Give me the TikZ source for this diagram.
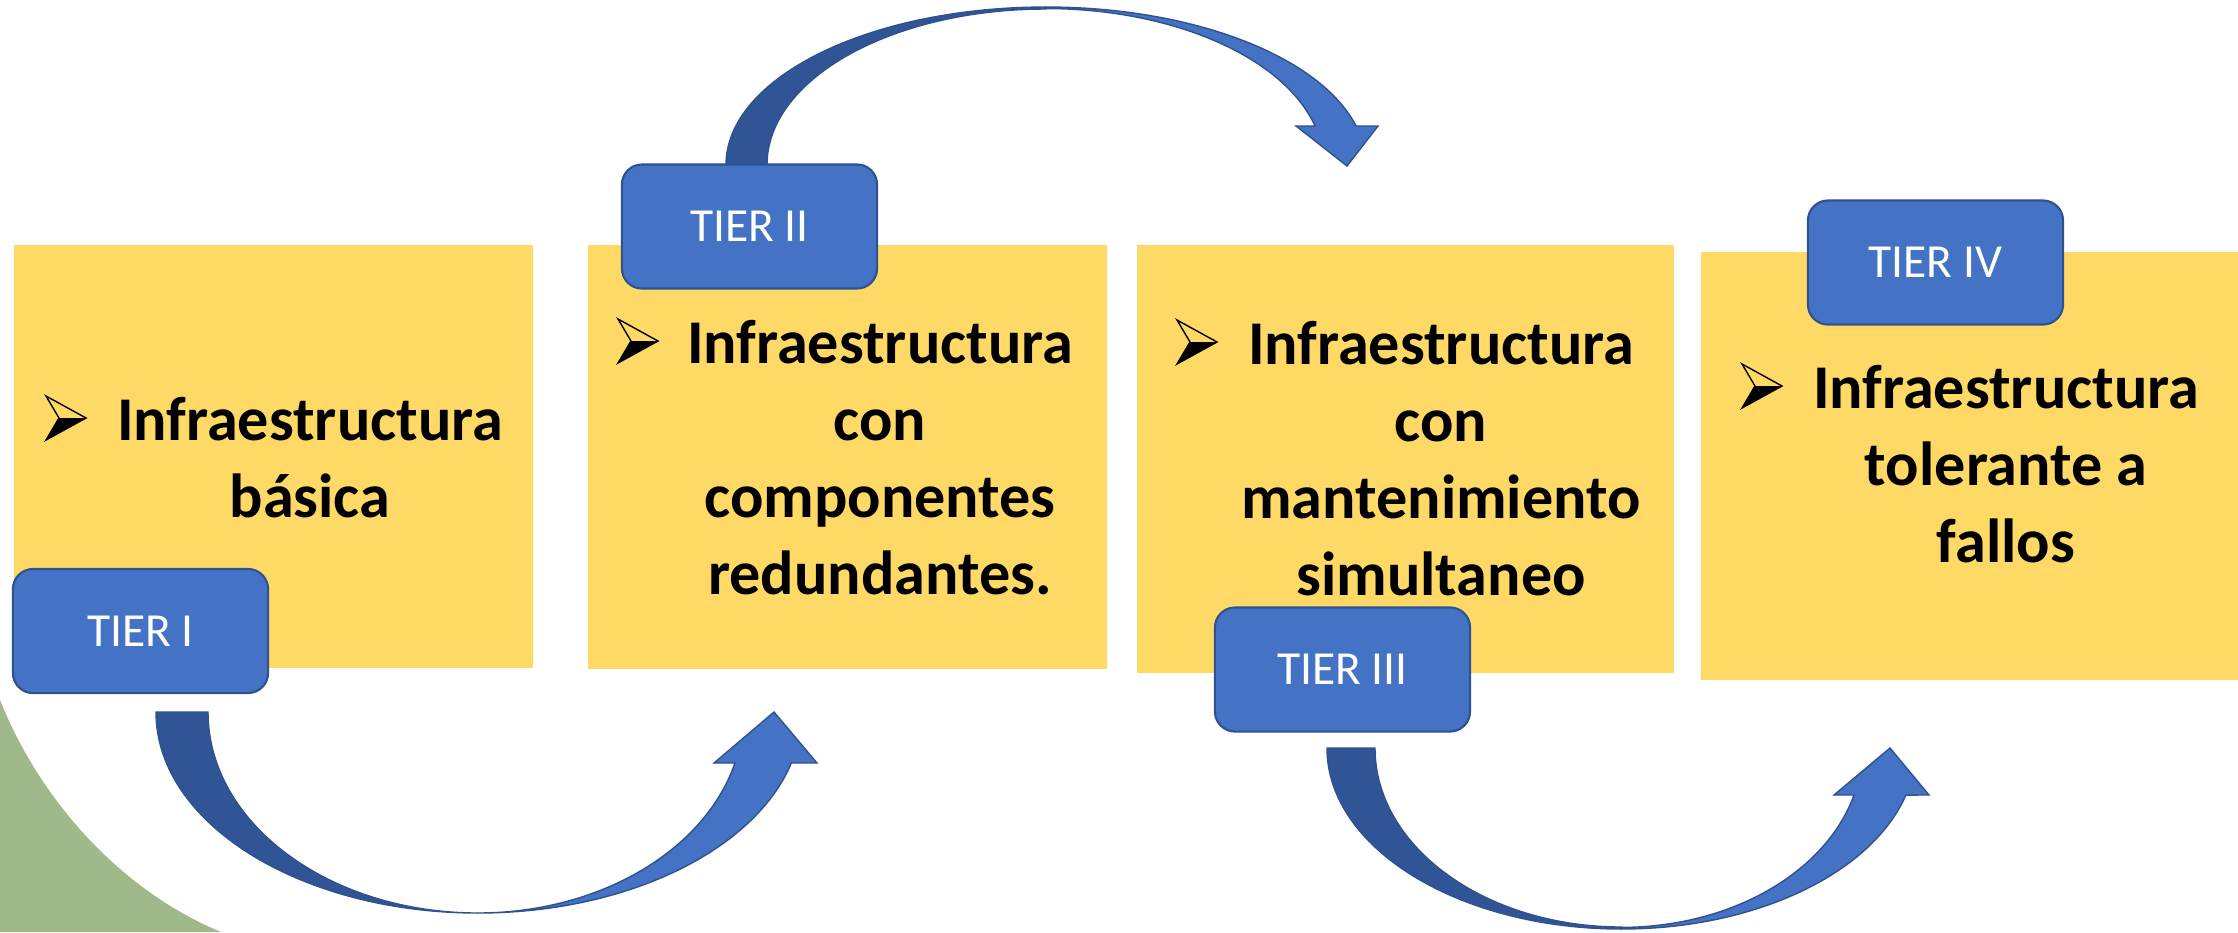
\documentclass[tikz,border=0pt]{standalone}
\usepackage{fontspec}
\setmainfont{Carlito}
\definecolor{myyellow}{HTML}{FFD966}
\definecolor{tierblue}{HTML}{4472C4}
\definecolor{tierline}{HTML}{2F528F}
\definecolor{arrowdark}{HTML}{2F5597}
\definecolor{arrowlight}{HTML}{4472C4}
\definecolor{mygreen}{HTML}{A0B98A}
\tikzset{
  ybox/.style={fill=myyellow, draw=none, inner sep=0pt},
  tier/.style={fill=tierblue, draw=tierline, line width=0.6pt, rounded corners=0.2cm,
    minimum width=2.55cm, minimum height=1.24cm, inner sep=0pt, text=white,
    font=\fontsize{13.5}{16}\selectfont},
  lbl/.style={anchor=base, inner sep=0pt, font=\bfseries\fontsize{17.7}{21.8}\selectfont},
  darkarrow/.style={fill=arrowdark, draw=tierline, line width=0.4pt},
  lightarrow/.style={fill=arrowlight, draw=tierline, line width=0.4pt},
  bul/.pic={
    \fill[black] (13,-22) -- (40,-22) -- (0,0) -- cycle;
    \draw[black, line width=0.4pt, line join=miter] (0,-44) -- (40,-22) -- (0,0) -- (13,-22) -- cycle;
  }
}
\begin{document}
\begin{tikzpicture}[x=0.01cm, y=-0.01cm]
\useasboundingbox (0,0) rectangle (2238,932);
% green decoration
\fill[mygreen] (0,700) .. controls (40,800) and (120,890) .. (221,932) -- (0,932) -- cycle;
% yellow boxes
\node[ybox, minimum width=5.19cm, minimum height=4.23cm] (y1) at (273.5,456.5) {};
\node[ybox, minimum width=5.19cm, minimum height=4.24cm] (y2) at (847.5,457) {};
\node[ybox, minimum width=5.37cm, minimum height=4.28cm] (y3) at (1405.5,459) {};
\node[ybox, minimum width=5.37cm, minimum height=4.28cm] (y4) at (1969.5,466) {};
% curved arrow 1 (TIER I -> box 2)
\fill[darkarrow] (156,712) arc[start angle=180, end angle=90, x radius=322, y radius=201]
  arc[start angle=90, end angle=180, x radius=270, y radius=201] -- cycle;
\fill[lightarrow] (478,913) arc[start angle=90, end angle=14.7, x radius=324, y radius=201]
  -- (817,763) -- (774,712) -- (714,763) -- (735,763)
  arc[start angle=14.7, end angle=90, x radius=266, y radius=201] -- cycle;
% curved arrow 2 (TIER II -> box 3)
\fill[darkarrow] (726,185) -- (726,165) arc[start angle=180, end angle=270, x radius=320, y radius=158]
  -- (1046,9) arc[start angle=270, end angle=180, x radius=279, y radius=156] -- (767,185) -- cycle;
\fill[lightarrow] (1046,7) arc[start angle=270, end angle=345.7, x radius=320, y radius=158]
  -- (1378,126) -- (1347,166) -- (1296,126) -- (1315,126)
  arc[start angle=345.7, end angle=270, x radius=278, y radius=156] -- cycle;
% curved arrow 3 (TIER III -> box 4)
\fill[darkarrow] (1327,748) arc[start angle=180, end angle=90, x radius=294.5, y radius=181]
  -- (1621.5,927) arc[start angle=90, end angle=180, x radius=246.5, y radius=179] -- cycle;
\fill[lightarrow] (1621.5,929) arc[start angle=90, end angle=15.07, x radius=294.5, y radius=181]
  -- (1929,795) -- (1890,748) -- (1834,795) -- (1854,795)
  arc[start angle=15.1, end angle=90, x radius=241, y radius=179] -- cycle;
% tier labels
\node[tier] (tier1) at (140.5,631) {TIER I};
\node[tier] (tier2) at (749.5,226.5) {TIER II};
\node[tier] (tier3) at (1342.5,669.5) {TIER III};
\node[tier] (tier4) at (1935.5,262.5) {TIER IV};
% bullets
\pic at (46,440) {bul};
\pic at (618,363) {bul};
\pic at (1177,364) {bul};
\pic at (1742,408) {bul};
% texts
\node[lbl] (t1a) at (310,440) {Infraestructura};
\node[lbl] (t1b) at (310,517) {básica};
\node[lbl] (t2a) at (880,363) {Infraestructura};
\node[lbl] (t2b) at (880,440) {con};
\node[lbl] (t2c) at (880,517) {componentes};
\node[lbl] (t2d) at (880,594) {redundantes.};
\node[lbl] (t3a) at (1441,364) {Infraestructura};
\node[lbl] (t3b) at (1441,441) {con};
\node[lbl] (t3c) at (1441,518) {mantenimiento};
\node[lbl] (t3d) at (1441,595) {simultaneo};
\node[lbl] (t4a) at (2006,408) {Infraestructura};
\node[lbl] (t4b) at (2006,485) {tolerante a};
\node[lbl] (t4c) at (2006,562) {fallos};
\end{tikzpicture}
\end{document}
